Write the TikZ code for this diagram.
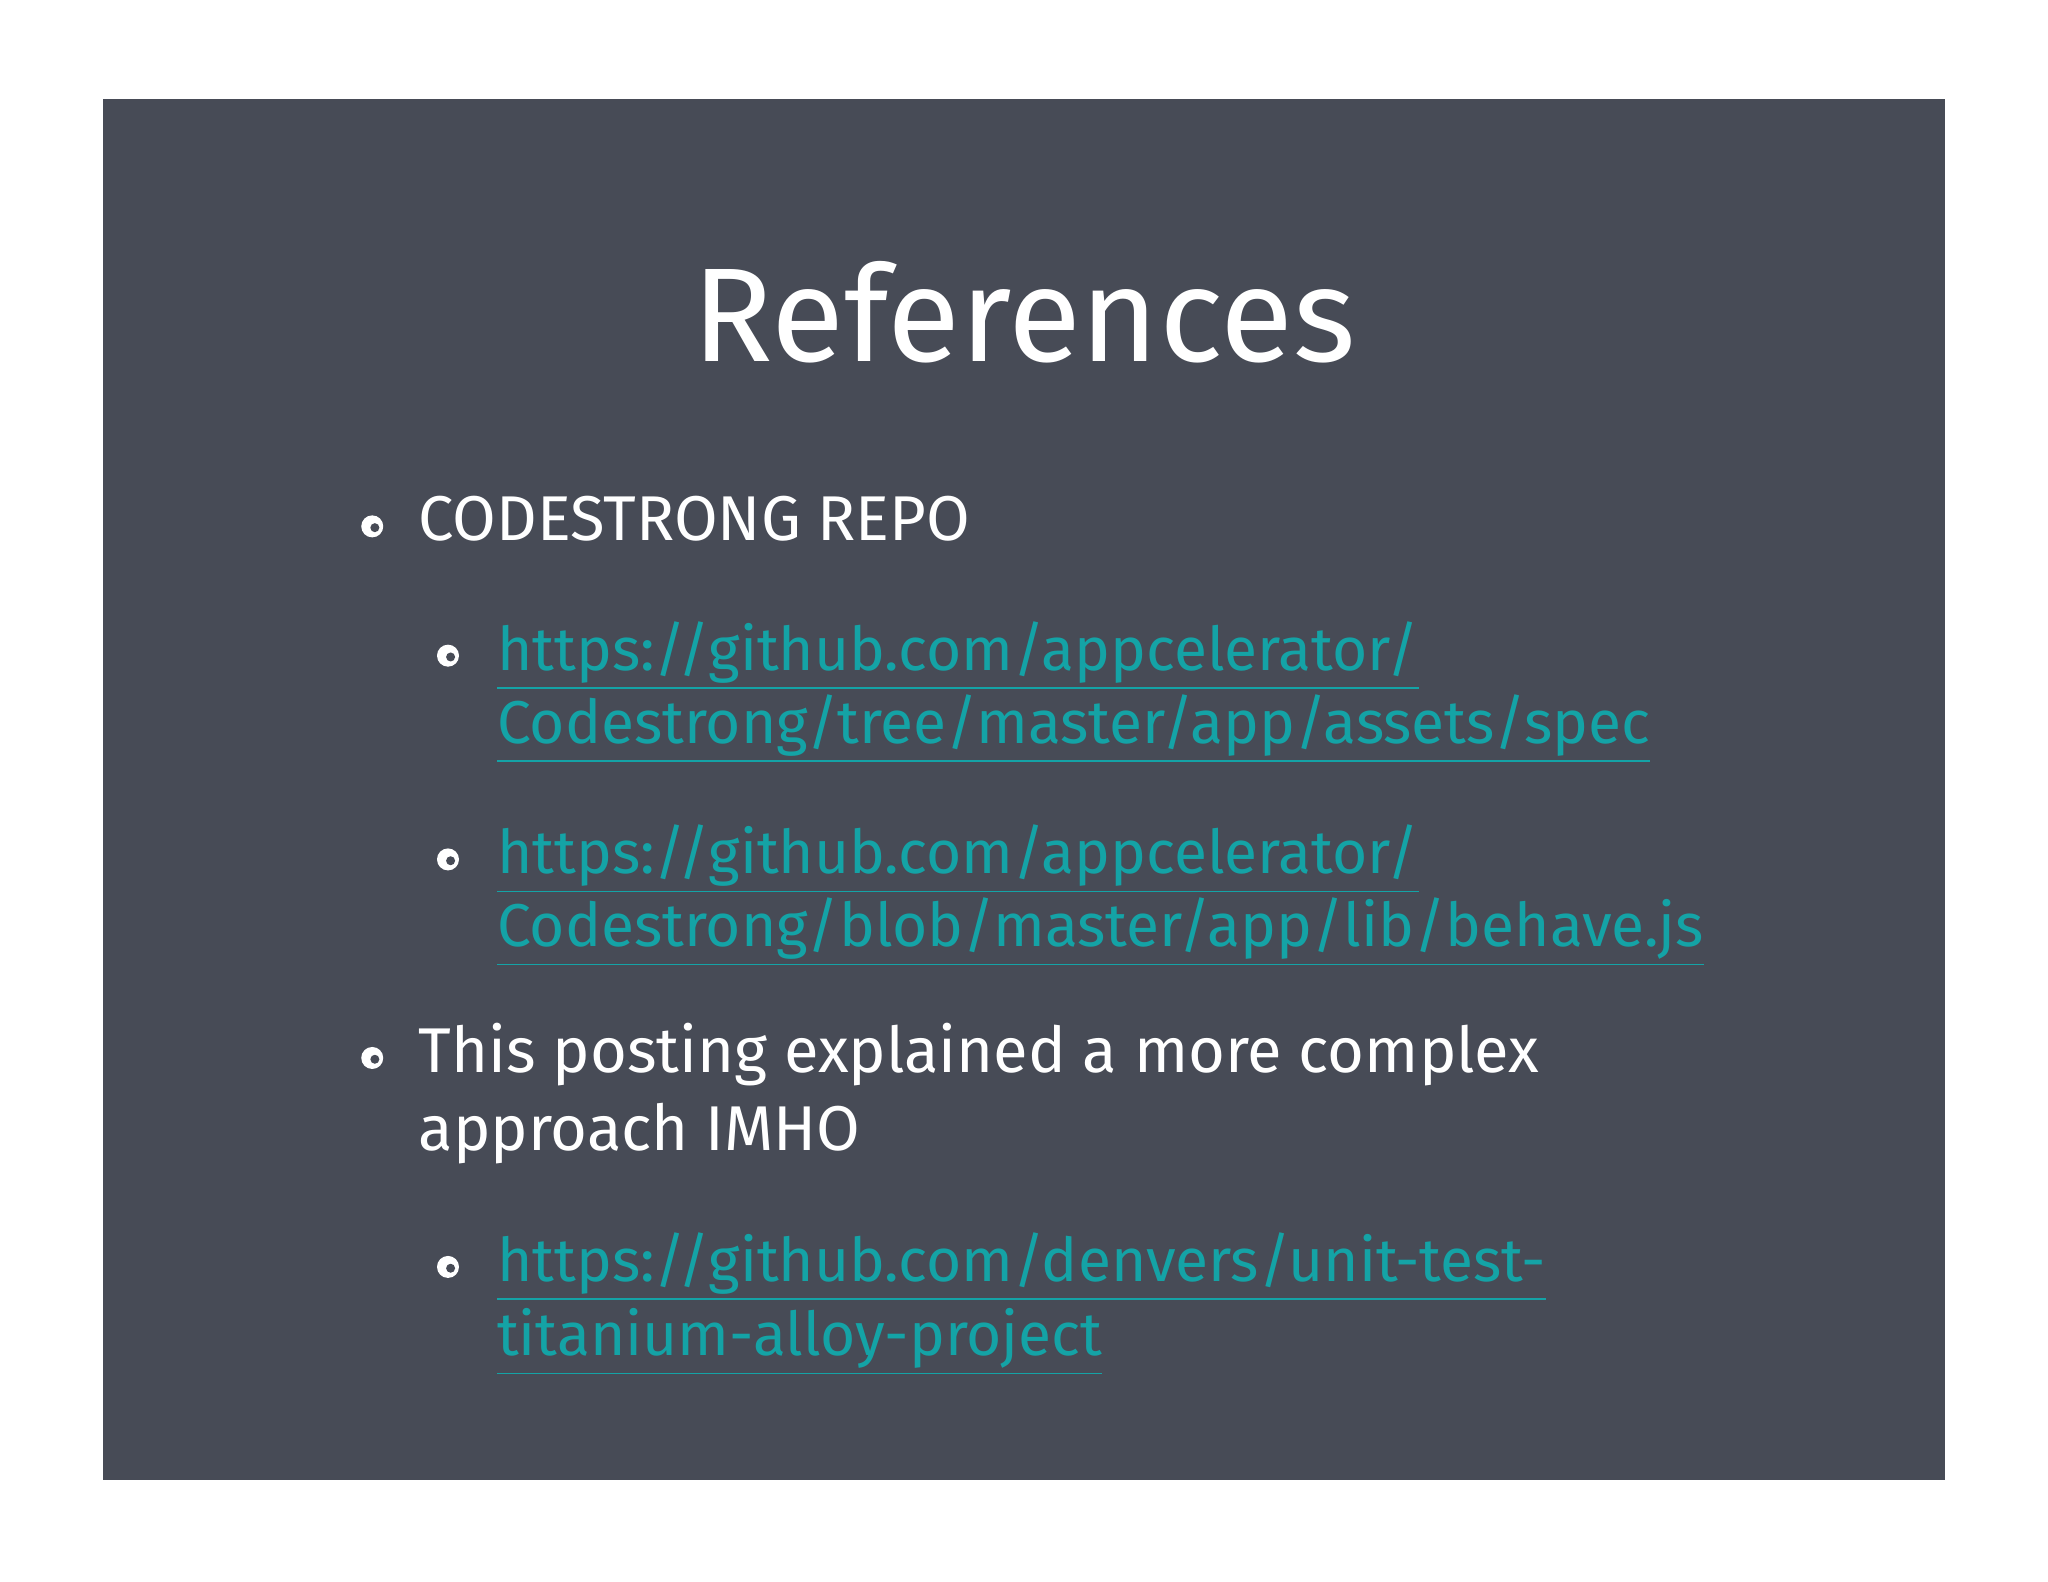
\documentclass[tikz,border=0pt]{standalone}
\usepackage{fontspec}
\setmainfont{Fira Sans}
\definecolor{slate}{HTML}{474B56}
\definecolor{link}{HTML}{14A3A6}
\begin{document}
\begin{tikzpicture}[x=0.01306cm,y=-0.01306cm,
  txt/.style={anchor=base west,inner sep=0,text=white,font=\fontsize{18}{21}\selectfont},
  lnk/.style={anchor=base west,inner sep=0,text=link,font=\fontsize{17.2}{20}\selectfont},
  bul/.style={circle,fill=white,inner sep=0,minimum size=0.22cm}]
\useasboundingbox (0,0) rectangle (1568,1211);
\fill[white] (0,0) rectangle (1568,1211);
\fill[slate] (79,76) rectangle (1489,1133);
\node[anchor=base,inner sep=0,text=white,font=\fontsize{38}{46}\selectfont] (title) at (784,277) {References};
\newcommand\bl[2]{\node[bul] (#1) at #2 {}; \fill[slate] ([shift={(2,1)}]#1.center) circle (0.045cm);}
\bl{b1}{(285,403)}
\node[txt] (t1) at (320,414) {CODESTRONG REPO};
\bl{b2}{(343,502)}
\node[lnk] (l1) at (380,513) {\underline{https://github.com/appcelerator/}};
\node[lnk] (l2) at (380,569) {\underline{Codestrong/tree/master/app/assets/spec}};
\bl{b3}{(343,658)}
\node[lnk] (l3) at (380,669) {\underline{https://github.com/appcelerator/}};
\node[lnk] (l4) at (380,725) {\underline{Codestrong/blob/master/app/lib/behave.js}};
\bl{b4}{(285,810)}
\node[txt] (t2) at (320,821) {This posting explained a more complex};
\node[txt] (t3) at (320,881) {approach IMHO};
\bl{b5}{(343,970)}
\node[lnk] (l5) at (380,981) {\underline{https://github.com/denvers/unit-test-}};
\node[lnk] (l6) at (380,1038) {\underline{titanium-alloy-project}};
\end{tikzpicture}
\end{document}
